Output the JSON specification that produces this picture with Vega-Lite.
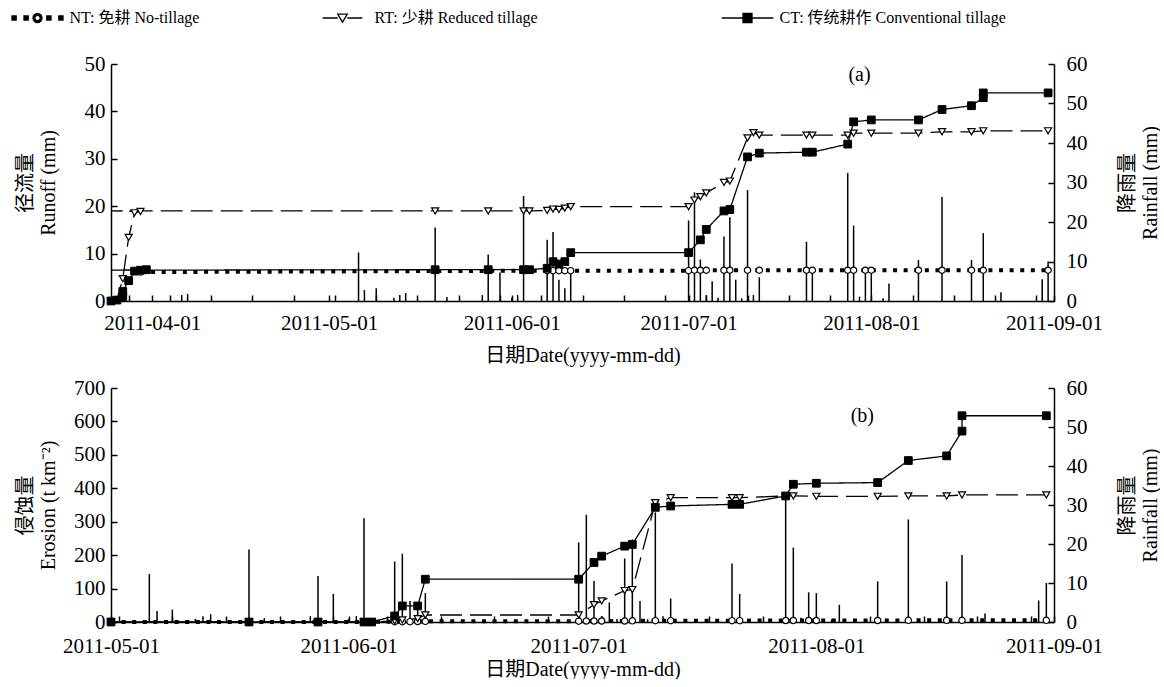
{
  "$schema": "https://vega.github.io/schema/vega-lite/v6.json",
  "background": "white",
  "padding": {"left": 15, "top": 10, "right": 0, "bottom": 0},
  "bounds": "flush",
  "spacing": 87,
  "resolve": {"scale": {"shape": "independent", "fill": "independent"}, "legend": {"shape": "independent", "fill": "independent"}},
  "config": {
    "font": "Liberation Serif, Noto Sans CJK SC",
    "view": {"stroke": null},
    "axis": {
      "labelFont": "Liberation Serif, Noto Sans CJK SC",
      "titleFont": "Liberation Serif, Noto Sans CJK SC",
      "labelFontSize": 21, "titleFontSize": 20, "titleFontWeight": "normal",
      "labelColor": "#000", "titleColor": "#000", "domainColor": "#000", "tickColor": "#000",
      "domainWidth": 1.5, "tickWidth": 1.5, "tickSize": -6, "grid": false, "titleLineHeight": 23
    },
    "axisLeft": {"labelPadding": 12, "titleX": -86, "titleBaseline": "middle", "titleAngle": 270, "titleAlign": "center"},
    "axisRight": {"labelPadding": 18, "titleX": 73, "titleBaseline": "middle", "titleAngle": 270, "titleAlign": "center"},
    "axisBottom": {"labelPadding": 16, "titleBaseline": "middle"}
  },
  "datasets": {
    "rain": [
      {"d": "2011-04-06", "mm": 1.5}, {"d": "2011-04-07", "mm": 1.8},
      {"d": "2011-05-06", "mm": 12.3}, {"d": "2011-05-07", "mm": 2.8}, {"d": "2011-05-09", "mm": 3.2},
      {"d": "2011-05-12", "mm": 0.8}, {"d": "2011-05-13", "mm": 1.5}, {"d": "2011-05-14", "mm": 2.0},
      {"d": "2011-05-19", "mm": 18.6}, {"d": "2011-05-21", "mm": 1.0}, {"d": "2011-05-27", "mm": 1.5},
      {"d": "2011-05-28", "mm": 11.8}, {"d": "2011-05-30", "mm": 7.2}, {"d": "2011-06-01", "mm": 0.8},
      {"d": "2011-06-02", "mm": 1.5}, {"d": "2011-06-03", "mm": 26.6}, {"d": "2011-06-07", "mm": 15.5},
      {"d": "2011-06-08", "mm": 17.5}, {"d": "2011-06-09", "mm": 5.4}, {"d": "2011-06-10", "mm": 3.2},
      {"d": "2011-06-11", "mm": 7.4}, {"d": "2011-07-01", "mm": 20.4}, {"d": "2011-07-02", "mm": 27.5},
      {"d": "2011-07-03", "mm": 10.5}, {"d": "2011-07-04", "mm": 1.5}, {"d": "2011-07-05", "mm": 5.0},
      {"d": "2011-07-06", "mm": 0.8}, {"d": "2011-07-07", "mm": 16.3}, {"d": "2011-07-08", "mm": 21.2},
      {"d": "2011-07-09", "mm": 5.4}, {"d": "2011-07-10", "mm": 0.7}, {"d": "2011-07-11", "mm": 28.1},
      {"d": "2011-07-12", "mm": 1.5}, {"d": "2011-07-13", "mm": 6.0}, {"d": "2011-07-21", "mm": 15.0},
      {"d": "2011-07-22", "mm": 7.2}, {"d": "2011-07-28", "mm": 32.4}, {"d": "2011-07-29", "mm": 19.1},
      {"d": "2011-07-30", "mm": 1.1}, {"d": "2011-07-31", "mm": 7.6}, {"d": "2011-08-01", "mm": 7.4},
      {"d": "2011-08-03", "mm": 0.7}, {"d": "2011-08-04", "mm": 4.4}, {"d": "2011-08-09", "mm": 10.4},
      {"d": "2011-08-13", "mm": 26.3}, {"d": "2011-08-18", "mm": 10.4}, {"d": "2011-08-20", "mm": 17.2},
      {"d": "2011-08-23", "mm": 2.2}, {"d": "2011-08-30", "mm": 5.5}, {"d": "2011-08-31", "mm": 10.0}
    ],
    "labels": [
      {"p": "a", "d": "2011-07-30", "v": 47.7, "txt": "(a)"},
      {"p": "b", "d": "2011-08-07", "v": 616, "txt": "(b)"}
    ],
    "series": [
      {"p": "a", "t": "NT", "s": 1, "d": "2011-03-30", "v": 6.1},
      {"p": "a", "t": "NT", "s": 2, "d": "2011-06-07", "v": 6.4},
      {"p": "a", "t": "NT", "s": 3, "d": "2011-06-08", "v": 6.4},
      {"p": "a", "t": "NT", "s": 4, "d": "2011-06-09", "v": 6.4},
      {"p": "a", "t": "NT", "s": 5, "d": "2011-06-10", "v": 6.4},
      {"p": "a", "t": "NT", "s": 6, "d": "2011-06-11", "v": 6.4},
      {"p": "a", "t": "NT", "s": 7, "d": "2011-07-01", "v": 6.4},
      {"p": "a", "t": "NT", "s": 8, "d": "2011-07-02", "v": 6.5},
      {"p": "a", "t": "NT", "s": 9, "d": "2011-07-03", "v": 6.5},
      {"p": "a", "t": "NT", "s": 10, "d": "2011-07-04", "v": 6.5},
      {"p": "a", "t": "NT", "s": 11, "d": "2011-07-07", "v": 6.5},
      {"p": "a", "t": "NT", "s": 12, "d": "2011-07-08", "v": 6.5},
      {"p": "a", "t": "NT", "s": 13, "d": "2011-07-11", "v": 6.5},
      {"p": "a", "t": "NT", "s": 14, "d": "2011-07-13", "v": 6.5},
      {"p": "a", "t": "NT", "s": 15, "d": "2011-07-21", "v": 6.5},
      {"p": "a", "t": "NT", "s": 16, "d": "2011-07-22", "v": 6.5},
      {"p": "a", "t": "NT", "s": 17, "d": "2011-07-28", "v": 6.5},
      {"p": "a", "t": "NT", "s": 18, "d": "2011-07-29", "v": 6.5},
      {"p": "a", "t": "NT", "s": 19, "d": "2011-07-31", "v": 6.5},
      {"p": "a", "t": "NT", "s": 20, "d": "2011-08-01", "v": 6.5},
      {"p": "a", "t": "NT", "s": 21, "d": "2011-08-09", "v": 6.5},
      {"p": "a", "t": "NT", "s": 22, "d": "2011-08-13", "v": 6.5},
      {"p": "a", "t": "NT", "s": 23, "d": "2011-08-18", "v": 6.5},
      {"p": "a", "t": "NT", "s": 24, "d": "2011-08-20", "v": 6.5},
      {"p": "a", "t": "NT", "s": 25, "d": "2011-08-31", "v": 6.5},

      {"p": "a", "t": "RT", "s": 1, "d": "2011-03-25", "v": 0},
      {"p": "a", "t": "RT", "s": 2, "d": "2011-03-26", "v": 0.3},
      {"p": "a", "t": "RT", "s": 3, "d": "2011-03-27", "v": 4.7},
      {"p": "a", "t": "RT", "s": 4, "d": "2011-03-28", "v": 13.4},
      {"p": "a", "t": "RT", "s": 5, "d": "2011-03-29", "v": 18.6},
      {"p": "a", "t": "RT", "s": 6, "d": "2011-03-30", "v": 18.9},
      {"p": "a", "t": "RT", "s": 7, "d": "2011-03-25", "v": 19.0},
      {"p": "a", "t": "RT", "s": 8, "d": "2011-05-19", "v": 19.0},
      {"p": "a", "t": "RT", "s": 9, "d": "2011-05-28", "v": 19.0},
      {"p": "a", "t": "RT", "s": 10, "d": "2011-06-03", "v": 19.0},
      {"p": "a", "t": "RT", "s": 11, "d": "2011-06-04", "v": 19.0},
      {"p": "a", "t": "RT", "s": 12, "d": "2011-06-07", "v": 19.1},
      {"p": "a", "t": "RT", "s": 13, "d": "2011-06-08", "v": 19.4},
      {"p": "a", "t": "RT", "s": 14, "d": "2011-06-09", "v": 19.3},
      {"p": "a", "t": "RT", "s": 15, "d": "2011-06-10", "v": 19.6},
      {"p": "a", "t": "RT", "s": 16, "d": "2011-06-11", "v": 19.9},
      {"p": "a", "t": "RT", "s": 17, "d": "2011-07-01", "v": 19.9},
      {"p": "a", "t": "RT", "s": 18, "d": "2011-07-02", "v": 21.3},
      {"p": "a", "t": "RT", "s": 19, "d": "2011-07-03", "v": 22.0},
      {"p": "a", "t": "RT", "s": 20, "d": "2011-07-04", "v": 22.8},
      {"p": "a", "t": "RT", "s": 21, "d": "2011-07-07", "v": 25.0},
      {"p": "a", "t": "RT", "s": 22, "d": "2011-07-08", "v": 25.3},
      {"p": "a", "t": "RT", "s": 23, "d": "2011-07-11", "v": 34.4},
      {"p": "a", "t": "RT", "s": 24, "d": "2011-07-12", "v": 35.5},
      {"p": "a", "t": "RT", "s": 25, "d": "2011-07-13", "v": 35.0},
      {"p": "a", "t": "RT", "s": 26, "d": "2011-07-21", "v": 35.0},
      {"p": "a", "t": "RT", "s": 27, "d": "2011-07-22", "v": 35.0},
      {"p": "a", "t": "RT", "s": 28, "d": "2011-07-28", "v": 35.0},
      {"p": "a", "t": "RT", "s": 29, "d": "2011-07-29", "v": 35.4},
      {"p": "a", "t": "RT", "s": 30, "d": "2011-08-01", "v": 35.4},
      {"p": "a", "t": "RT", "s": 31, "d": "2011-08-09", "v": 35.4},
      {"p": "a", "t": "RT", "s": 32, "d": "2011-08-13", "v": 35.7},
      {"p": "a", "t": "RT", "s": 33, "d": "2011-08-18", "v": 35.7},
      {"p": "a", "t": "RT", "s": 34, "d": "2011-08-20", "v": 35.9},
      {"p": "a", "t": "RT", "s": 35, "d": "2011-08-31", "v": 35.9},

      {"p": "a", "t": "CT", "s": 1, "d": "2011-03-25", "v": 0},
      {"p": "a", "t": "CT", "s": 2, "d": "2011-03-26", "v": 0.2},
      {"p": "a", "t": "CT", "s": 3, "d": "2011-03-27", "v": 0.9},
      {"p": "a", "t": "CT", "s": 4, "d": "2011-03-27", "v": 2.0},
      {"p": "a", "t": "CT", "s": 5, "d": "2011-03-28", "v": 4.3},
      {"p": "a", "t": "CT", "s": 6, "d": "2011-03-29", "v": 6.3},
      {"p": "a", "t": "CT", "s": 7, "d": "2011-03-30", "v": 6.5},
      {"p": "a", "t": "CT", "s": 8, "d": "2011-03-31", "v": 6.6},
      {"p": "a", "t": "CT", "s": 9, "d": "2011-03-25", "v": 6.5},
      {"p": "a", "t": "CT", "s": 10, "d": "2011-05-19", "v": 6.6},
      {"p": "a", "t": "CT", "s": 11, "d": "2011-05-28", "v": 6.6},
      {"p": "a", "t": "CT", "s": 12, "d": "2011-06-03", "v": 6.6},
      {"p": "a", "t": "CT", "s": 13, "d": "2011-06-04", "v": 6.6},
      {"p": "a", "t": "CT", "s": 14, "d": "2011-06-07", "v": 6.9},
      {"p": "a", "t": "CT", "s": 15, "d": "2011-06-08", "v": 8.3},
      {"p": "a", "t": "CT", "s": 16, "d": "2011-06-09", "v": 7.8},
      {"p": "a", "t": "CT", "s": 17, "d": "2011-06-10", "v": 8.3},
      {"p": "a", "t": "CT", "s": 18, "d": "2011-06-11", "v": 10.2},
      {"p": "a", "t": "CT", "s": 19, "d": "2011-07-01", "v": 10.2},
      {"p": "a", "t": "CT", "s": 20, "d": "2011-07-03", "v": 12.9},
      {"p": "a", "t": "CT", "s": 21, "d": "2011-07-04", "v": 15.1},
      {"p": "a", "t": "CT", "s": 22, "d": "2011-07-07", "v": 19.0},
      {"p": "a", "t": "CT", "s": 23, "d": "2011-07-08", "v": 19.3},
      {"p": "a", "t": "CT", "s": 24, "d": "2011-07-11", "v": 30.4},
      {"p": "a", "t": "CT", "s": 25, "d": "2011-07-13", "v": 31.2},
      {"p": "a", "t": "CT", "s": 26, "d": "2011-07-21", "v": 31.4},
      {"p": "a", "t": "CT", "s": 27, "d": "2011-07-22", "v": 31.4},
      {"p": "a", "t": "CT", "s": 28, "d": "2011-07-28", "v": 33.1},
      {"p": "a", "t": "CT", "s": 29, "d": "2011-07-29", "v": 37.8},
      {"p": "a", "t": "CT", "s": 30, "d": "2011-08-01", "v": 38.2},
      {"p": "a", "t": "CT", "s": 31, "d": "2011-08-09", "v": 38.2},
      {"p": "a", "t": "CT", "s": 32, "d": "2011-08-13", "v": 40.4},
      {"p": "a", "t": "CT", "s": 33, "d": "2011-08-18", "v": 41.2},
      {"p": "a", "t": "CT", "s": 34, "d": "2011-08-20", "v": 42.9},
      {"p": "a", "t": "CT", "s": 35, "d": "2011-08-20", "v": 43.9},
      {"p": "a", "t": "CT", "s": 36, "d": "2011-08-31", "v": 43.9},

      {"p": "b", "t": "NT", "s": 1, "d": "2011-05-01", "v": 0},
      {"p": "b", "t": "NT", "s": 2, "d": "2011-05-19", "v": 0},
      {"p": "b", "t": "NT", "s": 3, "d": "2011-05-28", "v": 0},
      {"p": "b", "t": "NT", "s": 4, "d": "2011-06-03", "v": 0},
      {"p": "b", "t": "NT", "s": 5, "d": "2011-06-04", "v": 0.5},
      {"p": "b", "t": "NT", "s": 6, "d": "2011-06-07", "v": 1},
      {"p": "b", "t": "NT", "s": 7, "d": "2011-06-08", "v": 1},
      {"p": "b", "t": "NT", "s": 8, "d": "2011-06-09", "v": 1},
      {"p": "b", "t": "NT", "s": 9, "d": "2011-06-10", "v": 1.5},
      {"p": "b", "t": "NT", "s": 10, "d": "2011-06-11", "v": 2},
      {"p": "b", "t": "NT", "s": 11, "d": "2011-07-01", "v": 2.5},
      {"p": "b", "t": "NT", "s": 12, "d": "2011-07-02", "v": 3},
      {"p": "b", "t": "NT", "s": 13, "d": "2011-07-03", "v": 3},
      {"p": "b", "t": "NT", "s": 14, "d": "2011-07-04", "v": 3},
      {"p": "b", "t": "NT", "s": 15, "d": "2011-07-07", "v": 3},
      {"p": "b", "t": "NT", "s": 16, "d": "2011-07-08", "v": 3.5},
      {"p": "b", "t": "NT", "s": 17, "d": "2011-07-11", "v": 4},
      {"p": "b", "t": "NT", "s": 18, "d": "2011-07-13", "v": 4},
      {"p": "b", "t": "NT", "s": 19, "d": "2011-07-21", "v": 4},
      {"p": "b", "t": "NT", "s": 20, "d": "2011-07-22", "v": 4},
      {"p": "b", "t": "NT", "s": 21, "d": "2011-07-28", "v": 4.5},
      {"p": "b", "t": "NT", "s": 22, "d": "2011-07-29", "v": 4.5},
      {"p": "b", "t": "NT", "s": 23, "d": "2011-07-31", "v": 4.5},
      {"p": "b", "t": "NT", "s": 24, "d": "2011-08-01", "v": 4.5},
      {"p": "b", "t": "NT", "s": 25, "d": "2011-08-09", "v": 4.5},
      {"p": "b", "t": "NT", "s": 26, "d": "2011-08-13", "v": 5},
      {"p": "b", "t": "NT", "s": 27, "d": "2011-08-18", "v": 5},
      {"p": "b", "t": "NT", "s": 28, "d": "2011-08-20", "v": 5},
      {"p": "b", "t": "NT", "s": 29, "d": "2011-08-31", "v": 5},

      {"p": "b", "t": "RT", "s": 1, "d": "2011-05-01", "v": 0},
      {"p": "b", "t": "RT", "s": 2, "d": "2011-05-19", "v": 0},
      {"p": "b", "t": "RT", "s": 3, "d": "2011-05-28", "v": 0},
      {"p": "b", "t": "RT", "s": 4, "d": "2011-06-03", "v": 0},
      {"p": "b", "t": "RT", "s": 5, "d": "2011-06-04", "v": 0},
      {"p": "b", "t": "RT", "s": 6, "d": "2011-06-07", "v": 3},
      {"p": "b", "t": "RT", "s": 7, "d": "2011-06-08", "v": 6},
      {"p": "b", "t": "RT", "s": 8, "d": "2011-06-10", "v": 10},
      {"p": "b", "t": "RT", "s": 9, "d": "2011-06-11", "v": 21},
      {"p": "b", "t": "RT", "s": 10, "d": "2011-07-01", "v": 21},
      {"p": "b", "t": "RT", "s": 11, "d": "2011-07-03", "v": 52},
      {"p": "b", "t": "RT", "s": 12, "d": "2011-07-04", "v": 63},
      {"p": "b", "t": "RT", "s": 13, "d": "2011-07-07", "v": 94},
      {"p": "b", "t": "RT", "s": 14, "d": "2011-07-08", "v": 97},
      {"p": "b", "t": "RT", "s": 15, "d": "2011-07-11", "v": 357},
      {"p": "b", "t": "RT", "s": 16, "d": "2011-07-13", "v": 372},
      {"p": "b", "t": "RT", "s": 17, "d": "2011-07-21", "v": 372},
      {"p": "b", "t": "RT", "s": 18, "d": "2011-07-22", "v": 372},
      {"p": "b", "t": "RT", "s": 19, "d": "2011-07-28", "v": 377},
      {"p": "b", "t": "RT", "s": 20, "d": "2011-07-29", "v": 377},
      {"p": "b", "t": "RT", "s": 21, "d": "2011-08-01", "v": 376},
      {"p": "b", "t": "RT", "s": 22, "d": "2011-08-09", "v": 376},
      {"p": "b", "t": "RT", "s": 23, "d": "2011-08-13", "v": 377},
      {"p": "b", "t": "RT", "s": 24, "d": "2011-08-18", "v": 377},
      {"p": "b", "t": "RT", "s": 25, "d": "2011-08-20", "v": 380},
      {"p": "b", "t": "RT", "s": 26, "d": "2011-08-31", "v": 380},

      {"p": "b", "t": "CT", "s": 1, "d": "2011-05-01", "v": 0},
      {"p": "b", "t": "CT", "s": 2, "d": "2011-05-19", "v": 0},
      {"p": "b", "t": "CT", "s": 3, "d": "2011-05-28", "v": 0},
      {"p": "b", "t": "CT", "s": 4, "d": "2011-06-03", "v": 0},
      {"p": "b", "t": "CT", "s": 5, "d": "2011-06-04", "v": 0},
      {"p": "b", "t": "CT", "s": 6, "d": "2011-06-07", "v": 18},
      {"p": "b", "t": "CT", "s": 7, "d": "2011-06-08", "v": 48},
      {"p": "b", "t": "CT", "s": 8, "d": "2011-06-10", "v": 48},
      {"p": "b", "t": "CT", "s": 9, "d": "2011-06-11", "v": 128},
      {"p": "b", "t": "CT", "s": 10, "d": "2011-07-01", "v": 128},
      {"p": "b", "t": "CT", "s": 11, "d": "2011-07-03", "v": 178},
      {"p": "b", "t": "CT", "s": 12, "d": "2011-07-04", "v": 197},
      {"p": "b", "t": "CT", "s": 13, "d": "2011-07-07", "v": 227},
      {"p": "b", "t": "CT", "s": 14, "d": "2011-07-08", "v": 232},
      {"p": "b", "t": "CT", "s": 15, "d": "2011-07-11", "v": 343},
      {"p": "b", "t": "CT", "s": 16, "d": "2011-07-13", "v": 347},
      {"p": "b", "t": "CT", "s": 17, "d": "2011-07-21", "v": 352},
      {"p": "b", "t": "CT", "s": 18, "d": "2011-07-22", "v": 352},
      {"p": "b", "t": "CT", "s": 19, "d": "2011-07-28", "v": 377},
      {"p": "b", "t": "CT", "s": 20, "d": "2011-07-29", "v": 412},
      {"p": "b", "t": "CT", "s": 21, "d": "2011-08-01", "v": 415},
      {"p": "b", "t": "CT", "s": 22, "d": "2011-08-09", "v": 417},
      {"p": "b", "t": "CT", "s": 23, "d": "2011-08-13", "v": 483},
      {"p": "b", "t": "CT", "s": 24, "d": "2011-08-18", "v": 497},
      {"p": "b", "t": "CT", "s": 25, "d": "2011-08-20", "v": 571},
      {"p": "b", "t": "CT", "s": 26, "d": "2011-08-20", "v": 617},
      {"p": "b", "t": "CT", "s": 27, "d": "2011-08-31", "v": 617}
    ]
  },
  "vconcat": [
    {
      "width": 943,
      "height": 237,
      "encoding": {
        "x": {
          "field": "d", "type": "temporal",
          "scale": {"type": "utc", "domain": [{"year": 2011, "month": 3, "date": 25, "utc": true}, {"year": 2011, "month": 9, "date": 1, "utc": true}]},
          "axis": {
            "title": "日期Date(yyyy-mm-dd)", "titleY": 54, "labelOverlap": false, "labelFlush": false, "labelPadding": 17,
            "labelExpr": "utcdate(datum.value) == 1 ? utcFormat(datum.value, '%Y-%m-%d') : ''",
            "values": [
              {"year": 2011, "month": 3, "date": 28, "utc": true}, {"year": 2011, "month": 4, "date": 1, "utc": true},
              {"year": 2011, "month": 4, "date": 4, "utc": true}, {"year": 2011, "month": 4, "date": 11, "utc": true},
              {"year": 2011, "month": 4, "date": 18, "utc": true}, {"year": 2011, "month": 4, "date": 25, "utc": true},
              {"year": 2011, "month": 5, "date": 1, "utc": true}, {"year": 2011, "month": 5, "date": 2, "utc": true},
              {"year": 2011, "month": 5, "date": 9, "utc": true}, {"year": 2011, "month": 5, "date": 16, "utc": true},
              {"year": 2011, "month": 5, "date": 23, "utc": true}, {"year": 2011, "month": 5, "date": 30, "utc": true},
              {"year": 2011, "month": 6, "date": 1, "utc": true}, {"year": 2011, "month": 6, "date": 6, "utc": true},
              {"year": 2011, "month": 6, "date": 13, "utc": true}, {"year": 2011, "month": 6, "date": 20, "utc": true},
              {"year": 2011, "month": 6, "date": 27, "utc": true}, {"year": 2011, "month": 7, "date": 1, "utc": true},
              {"year": 2011, "month": 7, "date": 4, "utc": true}, {"year": 2011, "month": 7, "date": 11, "utc": true},
              {"year": 2011, "month": 7, "date": 18, "utc": true}, {"year": 2011, "month": 7, "date": 25, "utc": true},
              {"year": 2011, "month": 8, "date": 1, "utc": true}, {"year": 2011, "month": 8, "date": 8, "utc": true},
              {"year": 2011, "month": 8, "date": 15, "utc": true}, {"year": 2011, "month": 8, "date": 22, "utc": true},
              {"year": 2011, "month": 8, "date": 29, "utc": true}, {"year": 2011, "month": 9, "date": 1, "utc": true}
            ]
          }
        }
      },
      "layer": [
        {
          "data": {"name": "rain"},
          "mark": {"type": "rule", "color": "black", "strokeWidth": 1.5},
          "encoding": {
            "y": {"field": "mm", "type": "quantitative", "scale": {"domain": [0, 60], "nice": false},
                  "axis": {"orient": "right", "values": [0, 10, 20, 30, 40, 50, 60], "title": ["降雨量", "Rainfall (mm)"]}},
            "y2": {"datum": 0}
          }
        },
        {
          "data": {"name": "series"},
          "transform": [{"filter": "datum.p == 'a'"}],
          "encoding": {
            "y": {"field": "v", "type": "quantitative", "scale": {"domain": [0, 50], "nice": false},
                  "axis": {"orient": "left", "values": [0, 10, 20, 30, 40, 50], "title": ["径流量", "Runoff (mm)"]}}
          },
          "layer": [
            {
              "mark": {"type": "line", "color": "black"},
              "encoding": {
                "strokeDash": {"field": "t", "type": "nominal", "scale": {"domain": ["NT", "RT", "CT"], "range": [[4, 6.6], [22, 8], [1, 0]]}, "legend": null},
                "strokeWidth": {"field": "t", "type": "nominal", "scale": {"type": "ordinal", "domain": ["NT", "RT", "CT"], "range": [4, 1.3, 1.3]}, "legend": null},
                "order": {"field": "s", "type": "quantitative"}
              }
            },
            {
              "transform": [{"filter": "datum.t == 'NT'"}],
              "mark": {"type": "point", "shape": "circle", "size": 40, "filled": true, "fill": "white", "stroke": "black", "strokeWidth": 1.2, "opacity": 1}
            },
            {
              "transform": [{"filter": "datum.t == 'RT' && !(datum.v > 1 && utcdate(datum.d) == 25 && utcmonth(datum.d) == 2)"}],
              "mark": {"type": "point", "shape": "triangle-down", "size": 50, "filled": true, "fill": "white", "stroke": "black", "strokeWidth": 1.2, "opacity": 1}
            },
            {
              "transform": [{"filter": "datum.t == 'CT' && !(datum.v > 1 && utcdate(datum.d) == 25 && utcmonth(datum.d) == 2)"}],
              "mark": {"type": "point", "shape": "square", "size": 60, "filled": true, "fill": "black", "stroke": "black", "strokeWidth": 1, "opacity": 1}
            },
            {
              "mark": {"type": "point", "size": 144, "opacity": 0, "filled": true, "stroke": "black", "strokeWidth": 1.3},
              "encoding": {
                "shape": {"field": "t", "type": "nominal",
                  "scale": {"domain": ["NT", "RT", "CT"], "range": [
                    "M-4.25,-0.35h0.7v0.7h-0.7Z M-2.25,-0.35h0.7v0.7h-0.7Z M1.55,-0.35h0.7v0.7h-0.7Z M3.55,-0.35h0.7v0.7h-0.7Z M-0.75,0a0.75,0.75 0 1,0 1.5,0a0.75,0.75 0 1,0 -1.5,0Z M-0.45,0a0.45,0.45 0 1,1 0.9,0a0.45,0.45 0 1,1 -0.9,0Z",
                    "M-3.3,0H-0.8 M0.8,0H3.3 M-0.8,-0.65H0.8L0,0.7Z",
                    "M-14.3,0 M-4.3,0H-0.75 M0.75,0H4.3 M-0.75,-0.75H0.75V0.75H-0.75Z"
                  ]},
                  "legend": {"title": null, "orient": "none", "legendX": -81.5, "legendY": -54, "direction": "horizontal", "columns": 3,
                    "columnPadding": 120, "labelOffset": 24, "labelFontSize": 16, "labelLimit": 600, "labelFont": "Liberation Serif, Noto Sans CJK SC", "labelColor": "#000",
                    "symbolOpacity": 1, "symbolStrokeWidth": 1.3, "symbolStrokeColor": "black", "symbolSize": 144,
                    "encode": {"symbols": {"update": {"stroke": {"value": "black"}, "strokeWidth": {"value": 1.3}, "opacity": {"value": 1}}}},
                    "labelExpr": "datum.label == 'NT' ? 'NT: 免耕 No-tillage' : datum.label == 'RT' ? 'RT: 少耕 Reduced tillage' : 'CT: 传统耕作 Conventional tillage'"}
                },
                "fill": {"field": "t", "type": "nominal",
                  "scale": {"domain": ["NT", "RT", "CT"], "range": ["black", "white", "black"]},
                  "legend": {"title": null, "orient": "none", "legendX": -81.5, "legendY": -54, "direction": "horizontal", "columns": 3,
                    "columnPadding": 120, "labelOffset": 24, "labelFontSize": 16, "labelLimit": 600, "labelFont": "Liberation Serif, Noto Sans CJK SC", "labelColor": "#000",
                    "symbolOpacity": 1, "symbolStrokeWidth": 1.3, "symbolStrokeColor": "black", "symbolSize": 144,
                    "encode": {"symbols": {"update": {"stroke": {"value": "black"}, "strokeWidth": {"value": 1.3}, "opacity": {"value": 1}}}},
                    "labelExpr": "datum.label == 'NT' ? 'NT: 免耕 No-tillage' : datum.label == 'RT' ? 'RT: 少耕 Reduced tillage' : 'CT: 传统耕作 Conventional tillage'"}
                }
              }
            },
            {
              "data": {"name": "labels"},
              "transform": [{"filter": "datum.p == 'a'"}],
              "mark": {"type": "text", "fontSize": 20, "font": "Liberation Serif", "color": "black"},
              "encoding": {"text": {"field": "txt"}}
            }
          ]
        }
      ],
      "resolve": {"scale": {"y": "independent"}}
    },
    {
      "width": 943,
      "height": 234,
      "encoding": {
        "x": {
          "field": "d", "type": "temporal",
          "scale": {"type": "utc", "domain": [{"year": 2011, "month": 5, "date": 1, "utc": true}, {"year": 2011, "month": 9, "date": 1, "utc": true}]},
          "axis": {
            "title": "日期Date(yyyy-mm-dd)", "titleY": 47, "labelOverlap": false, "labelFlush": false, "labelPadding": 19,
            "labelExpr": "utcdate(datum.value) == 1 ? utcFormat(datum.value, '%Y-%m-%d') : ''",
            "values": [
              {"year": 2011, "month": 5, "date": 1, "utc": true}, {"year": 2011, "month": 5, "date": 2, "utc": true},
              {"year": 2011, "month": 5, "date": 9, "utc": true}, {"year": 2011, "month": 5, "date": 16, "utc": true},
              {"year": 2011, "month": 5, "date": 23, "utc": true}, {"year": 2011, "month": 5, "date": 30, "utc": true},
              {"year": 2011, "month": 6, "date": 1, "utc": true}, {"year": 2011, "month": 6, "date": 6, "utc": true},
              {"year": 2011, "month": 6, "date": 13, "utc": true}, {"year": 2011, "month": 6, "date": 20, "utc": true},
              {"year": 2011, "month": 6, "date": 27, "utc": true}, {"year": 2011, "month": 7, "date": 1, "utc": true},
              {"year": 2011, "month": 7, "date": 4, "utc": true}, {"year": 2011, "month": 7, "date": 11, "utc": true},
              {"year": 2011, "month": 7, "date": 18, "utc": true}, {"year": 2011, "month": 7, "date": 25, "utc": true},
              {"year": 2011, "month": 8, "date": 1, "utc": true}, {"year": 2011, "month": 8, "date": 8, "utc": true},
              {"year": 2011, "month": 8, "date": 15, "utc": true}, {"year": 2011, "month": 8, "date": 22, "utc": true},
              {"year": 2011, "month": 8, "date": 29, "utc": true}, {"year": 2011, "month": 9, "date": 1, "utc": true}
            ]
          }
        }
      },
      "layer": [
        {
          "data": {"name": "rain"},
          "mark": {"type": "rule", "color": "black", "strokeWidth": 1.5, "clip": true},
          "encoding": {
            "y": {"field": "mm", "type": "quantitative", "scale": {"domain": [0, 60], "nice": false},
                  "axis": {"orient": "right", "values": [0, 10, 20, 30, 40, 50, 60], "title": ["降雨量", "Rainfall (mm)"]}},
            "y2": {"datum": 0}
          }
        },
        {
          "data": {"name": "series"},
          "transform": [{"filter": "datum.p == 'b'"}],
          "encoding": {
            "y": {"field": "v", "type": "quantitative", "scale": {"domain": [0, 700], "nice": false},
                  "axis": {"orient": "left", "values": [0, 100, 200, 300, 400, 500, 600, 700], "title": ["侵蚀量", "Erosion (t km⁻²)"]}}
          },
          "layer": [
            {
              "mark": {"type": "line", "color": "black"},
              "encoding": {
                "strokeDash": {"field": "t", "type": "nominal", "scale": {"domain": ["NT", "RT", "CT"], "range": [[4, 6.6], [22, 8], [1, 0]]}, "legend": null},
                "strokeWidth": {"field": "t", "type": "nominal", "scale": {"type": "ordinal", "domain": ["NT", "RT", "CT"], "range": [4, 1.3, 1.3]}, "legend": null},
                "order": {"field": "s", "type": "quantitative"}
              }
            },
            {
              "transform": [{"filter": "datum.t == 'NT'"}],
              "mark": {"type": "point", "shape": "circle", "size": 40, "filled": true, "fill": "white", "stroke": "black", "strokeWidth": 1.2, "opacity": 1}
            },
            {
              "transform": [{"filter": "datum.t == 'RT'"}],
              "mark": {"type": "point", "shape": "triangle-down", "size": 50, "filled": true, "fill": "white", "stroke": "black", "strokeWidth": 1.2, "opacity": 1}
            },
            {
              "transform": [{"filter": "datum.t == 'CT'"}],
              "mark": {"type": "point", "shape": "square", "size": 60, "filled": true, "fill": "black", "stroke": "black", "strokeWidth": 1, "opacity": 1}
            },
            {
              "data": {"name": "labels"},
              "transform": [{"filter": "datum.p == 'b'"}],
              "mark": {"type": "text", "fontSize": 20, "font": "Liberation Serif", "color": "black"},
              "encoding": {"text": {"field": "txt"}}
            }
          ]
        }
      ],
      "resolve": {"scale": {"y": "independent"}}
    }
  ]
}
